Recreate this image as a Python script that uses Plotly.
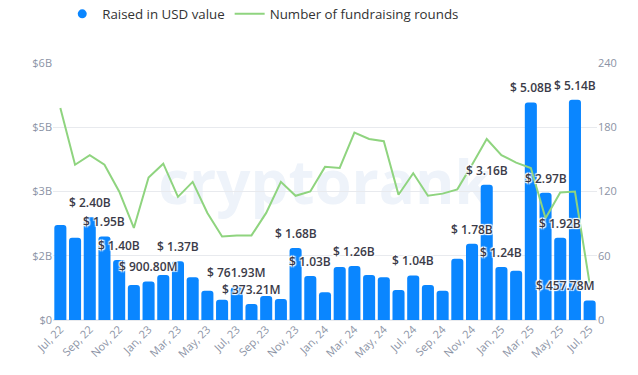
import plotly.graph_objects as go

months = ["Jul, 22", "Aug, 22", "Sep, 22", "Oct, 22", "Nov, 22", "Dec, 22",
          "Jan, 23", "Feb, 23", "Mar, 23", "Apr, 23", "May, 23", "Jun, 23",
          "Jul, 23", "Aug, 23", "Sep, 23", "Oct, 23", "Nov, 23", "Dec, 23",
          "Jan, 24", "Feb, 24", "Mar, 24", "Apr, 24", "May, 24", "Jun, 24",
          "Jul, 24", "Aug, 24", "Sep, 24", "Oct, 24", "Nov, 24", "Dec, 24",
          "Jan, 25", "Feb, 25", "Mar, 25", "Apr, 25", "May, 25", "Jun, 25",
          "Jul, 25"]

raised_usd = [2.22e9, 1.92e9, 2.40e9, 1.95e9, 1.40e9, 0.82e9,
              0.9008e9, 1.05e9, 1.37e9, 1.00e9, 0.68e9, 0.47e9,
              0.76193e9, 0.37321e9, 0.56e9, 0.49e9, 1.68e9, 1.03e9,
              0.65e9, 1.24e9, 1.26e9, 1.05e9, 1.00e9, 0.70e9,
              1.04e9, 0.82e9, 0.68e9, 1.43e9, 1.78e9, 3.16e9,
              1.24e9, 1.15e9, 5.08e9, 2.97e9, 1.92e9, 5.14e9,
              0.45778e9]

rounds = [198, 145, 154, 145, 120, 86,
          133, 146, 115, 129, 100, 78,
          79, 79, 100, 129, 116, 120,
          143, 142, 175, 169, 167, 117,
          137, 116, 118, 122, 145, 169,
          154, 147, 142, 95, 119, 120,
          34]

# labels shown in the reference (index -> text)
label_idx = [2, 3, 4, 6, 8, 12, 13, 16, 17, 20, 24, 28, 29, 30, 32, 33, 34, 35, 36]
label_text = ["$ 2.40B", "$ 1.95B", "$ 1.40B", "$ 900.80M", "$ 1.37B", "$ 761.93M",
              "$ 373.21M", "$ 1.68B", "$ 1.03B", "$ 1.26B", "$ 1.04B", "$ 1.78B",
              "$ 3.16B", "$ 1.24B", "$ 5.08B", "$ 2.97B", "$ 1.92B", "$ 5.14B",
              "$ 457.78M"]

left_tickvals = [0, 1.5e9, 3e9, 4.5e9, 6e9]
left_ticktext = ["$0", "$2B", "$3B", "$5B", "$6B"]
right_tickvals = [0, 60, 120, 180, 240]

BLUE = "#0a86ff"
GREEN = "#8fd47f"
FONT = "Open Sans"

fig = go.Figure()
fig.add_trace(go.Bar(x=months, y=raised_usd, name="Raised in USD value",
                     marker=dict(color=BLUE, line=dict(width=0)),
                     showlegend=False, yaxis="y"))
fig.add_trace(go.Scatter(x=[None], y=[None], mode="markers", name="Raised in USD value",
                         marker=dict(color=BLUE, size=9, symbol="circle"), yaxis="y"))
fig.add_trace(go.Scatter(x=months, y=rounds, mode="lines", name="Number of fundraising rounds",
                         line=dict(color=GREEN, width=2), yaxis="y2"))

annotations = []
for i, t in zip(label_idx, label_text):
    a = dict(x=months[i], y=raised_usd[i], xref="x", yref="y", text=t, showarrow=False,
             yanchor="bottom", yshift=4,
             font=dict(family=FONT, size=12, color="#3b3b48", weight=600,
                       shadow="1px 1px 1px white, -1px -1px 1px white, 1px -1px 1px white, -1px 1px 1px white"))
    if i == len(months) - 1:
        a["xanchor"] = "right"
        a["xshift"] = 7
    annotations.append(a)

fig.update_layout(
    width=638, height=375,
    margin=dict(l=53, r=41, t=63, b=55, autoexpand=False),
    paper_bgcolor="white", plot_bgcolor="white",
    font=dict(family=FONT, color="#333"),
    bargap=0.18, barcornerradius=3,
    showlegend=True,
    legend=dict(orientation="h", x=0.017, xanchor="left", y=1.19, yanchor="middle",
                font=dict(size=13.3, color="#333"), itemwidth=30, bgcolor="rgba(0,0,0,0)"),
    xaxis=dict(type="category", categoryorder="array", categoryarray=months,
               tickvals=months[::2], ticktext=months[::2], tickangle=-45,
               showgrid=False, showline=False, ticks="",
               tickfont=dict(size=11, color="#8b93a5"), range=[-0.5, len(months) - 0.5]),
    yaxis=dict(range=[0, 6e9], tickvals=left_tickvals, ticktext=left_ticktext,
               showgrid=True, gridcolor="#e8eaee", zeroline=True, zerolinecolor="#e8eaee",
               tickfont=dict(size=11, color="#8b93a5"), ticks="", showline=False),
    yaxis2=dict(range=[0, 240], tickvals=right_tickvals, overlaying="y", side="right",
                showgrid=False, zeroline=False, tickfont=dict(size=11, color="#8b93a5"),
                ticks="", showline=False),
    annotations=annotations,
    shapes=[dict(type="rect", xref="paper", yref="paper", x0=0.1, x1=0.9, y0=0.3, y1=0.75,
                 line=dict(width=0), fillcolor="rgba(0,0,0,0)", layer="below",
                 label=dict(text="cryptorank", textposition="middle center",
                            font=dict(family=FONT, size=60, color="#eef3fa", weight=700)))],
)

fig.write_html("out.html", config={"displayModeBar": False},
               post_script="document.body.style.margin='0px';")
